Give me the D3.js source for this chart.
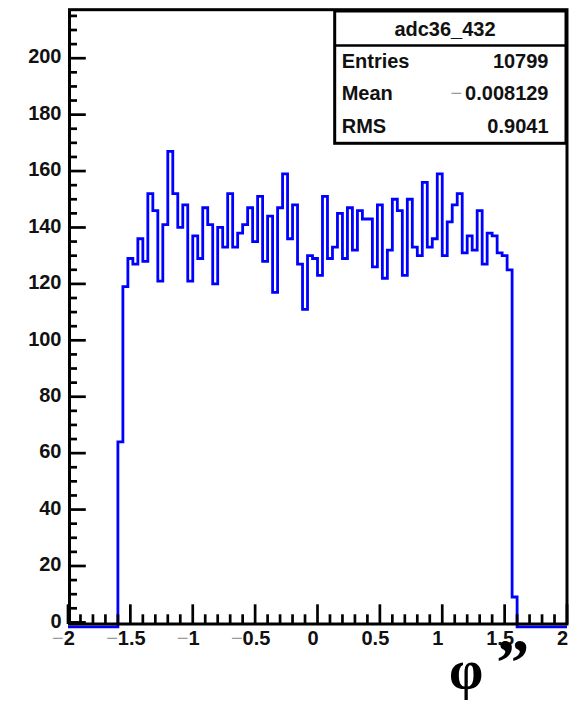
<!DOCTYPE html>
<html><head><meta charset="utf-8">
<script src="https://cdn.jsdelivr.net/npm/d3@7/dist/d3.min.js"></script>
<style>html,body{margin:0;padding:0;background:#fff;} svg{display:block;}</style>
</head><body>
<svg id="c" width="577" height="709"></svg>
<script>
// ---- data ----
const binRange = [-2, 2];
const nBins = 100;
const counts = [
  0,0,0,0,0,0,0,0,0,0,
  64,119,129,127,136,128,152,146,121,141,
  167,152,140,148,121,137,129,147,141,120,
  140,133,152,133,138,141,147,135,151,128,
  144,117,147,159,136,148,127,111,130,129,
  123,151,129,133,145,129,147,132,146,143,
  143,126,148,122,132,150,146,123,150,133,
  130,156,133,136,159,130,142,148,152,131,
  137,132,146,127,138,137,131,130,125,9,
  0,0,0,0,0,0,0,0,0,0
];
const xTickValues = [-2,-1.5,-1,-0.5,0,0.5,1,1.5,2];
const xTickLabels = ["\u22122","\u22121.5","\u22121","\u22120.5","0","0.5","1","1.5","2"];
const yTickValues = [0,20,40,60,80,100,120,140,160,180,200];
const yTickLabels = ["0","20","40","60","80","100","120","140","160","180","200"];
const yMax = 217.2;
const statsTitle = "adc36_432";
const statsNames = ["Entries","Mean","RMS"];
const statsValues = ["10799","\u22120.008129","0.9041"];
const xTitleMain = "\u03C6";
const xTitleQuote = "\u201D";

// ---- scales ----
const svg = d3.select("#c");
const x = d3.scaleLinear().domain(binRange).range([68, 567]);
const y = d3.scaleLinear().domain([0, yMax]).range([622.4, 9.7]);
const binW = (binRange[1]-binRange[0]) / nBins;

const blue = "#0000ff";
const labelFont = "'Liberation Sans', Arial, Helvetica, sans-serif";

// ---- histogram ----
const pts = counts.map((c,i) => [binRange[0] + i*binW, c]);
pts.push([binRange[1], counts[counts.length-1]]);
const yH = c => c === 0 ? y(0) + 4.5 : y(c);
const line = d3.line().x(d => x(d[0])).y(d => yH(d[1])).curve(d3.curveStepAfter);
svg.append("path").attr("d", line(pts))
  .attr("fill","none").attr("stroke", blue).attr("stroke-width", 2.8)
  .attr("stroke-linejoin","miter");

// ---- frame ----
const fx0 = x(binRange[0]) + 1.5, fx1 = x(binRange[1]);
const fy0 = y(yMax), fy1 = y(0) + 1.6;
svg.append("rect").attr("x", fx0).attr("y", fy0).attr("width", fx1-fx0).attr("height", fy1-fy0)
  .attr("fill","none").attr("stroke","#000").attr("stroke-width",3);

// ---- y ticks ----
const yMinor = y.ticks(40);
svg.append("g").selectAll("line").data(yMinor).join("line")
  .attr("x1", fx0).attr("x2", d => fx0 + (d % 20 === 0 ? 16.3 : 7.5))
  .attr("y1", d => y(d)).attr("y2", d => y(d))
  .attr("stroke","#000").attr("stroke-width",2.7);

// ---- x ticks ----
const xMinor = x.ticks(40);
svg.append("g").selectAll("line").data(xMinor).join("line")
  .attr("x1", d => x(d)).attr("x2", d => x(d))
  .attr("y1", fy1).attr("y2", d => fy1 - (Math.abs(Math.round(d*10)) % 5 === 0 ? 19.7 : 9.7))
  .attr("stroke","#000").attr("stroke-width",2.7);

function addText(g, str, attrs, gap){
  const t = g.append("text");
  Object.entries(attrs).forEach(([k,v]) => t.attr(k, v));
  if (str.startsWith("\u2212")) {
    t.append("tspan").attr("fill","#9a9a9a").attr("font-weight","normal").text("\u2212");
    const r = t.append("tspan").text(str.slice(1));
    if (gap) r.attr("dx", gap);
  } else t.text(str);
  return t;
}

const gl = svg.append("g").attr("font-family", labelFont).attr("font-weight","bold")
  .attr("font-size", 20).attr("fill","#111");
yTickValues.forEach((v,i) => addText(gl, yTickLabels[i], {x: 61.5, y: y(v) + 5.2, "text-anchor":"end"}));
xTickValues.forEach((v,i) => addText(gl, xTickLabels[i], {x: x(v) - 4.5, y: 644.7, "text-anchor":"middle"}));

// ---- stats box ----
const bx0 = 334.7, bx1 = 566, by0 = 11, by1 = 143.3, bsep = 45.6;
svg.append("rect").attr("x", bx0).attr("y", by0).attr("width", bx1-bx0).attr("height", by1-by0)
  .attr("fill","#fff").attr("stroke","#000").attr("stroke-width",3);
svg.append("line").attr("x1", bx0).attr("x2", bx1).attr("y1", bsep).attr("y2", bsep)
  .attr("stroke","#000").attr("stroke-width",2.5);
const gs = svg.append("g").attr("font-family", labelFont).attr("font-weight","bold")
  .attr("font-size", 20).attr("fill","#111");
gs.append("text").attr("x", 445).attr("y", 35.5).attr("text-anchor","middle").text(statsTitle);
const rowBase = [68, 99.7, 133];
statsNames.forEach((n,i) => {
  gs.append("text").attr("x", 341.7).attr("y", rowBase[i]).text(n);
  addText(gs, statsValues[i], {x: 548.5, y: rowBase[i], "text-anchor":"end"}, 3);
});

// ---- x title ----
const tt = svg.append("text").attr("x", 449).attr("y", 688)
  .attr("font-family","'Liberation Serif', 'Times New Roman', serif").attr("font-weight","bold").attr("fill","#000");
tt.append("tspan").attr("font-size", 55).text(xTitleMain);
tt.append("tspan").attr("font-size", 66).attr("dx", 13).attr("dy", -4).text(xTitleQuote);
</script>
</body></html>
